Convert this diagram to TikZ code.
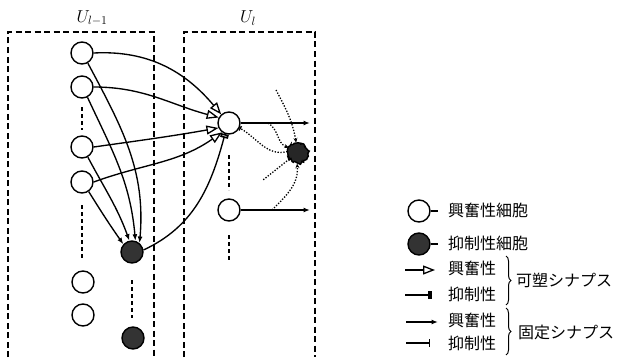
\documentclass[tikz,border=0pt]{standalone}
\usepackage{fontspec}
\newfontfamily\jpfont{Noto Sans CJK JP}
\usetikzlibrary{arrows.meta, decorations.pathreplacing, decorations.pathmorphing}

\begin{document}
\begin{tikzpicture}[x=1pt, y=1pt,
  cell/.style={circle, draw, line width=1.4pt, minimum size=22pt, inner sep=0pt},
  exccell/.style={cell, fill=white},
  inhcell/.style={cell, fill=black!80},
  layerbox/.style={line width=1.3pt, dash pattern=on 6pt off 3.5pt},
  contline/.style={line width=1.5pt, dash pattern=on 4pt off 3pt},
  wire/.style={line width=1.35pt},
  fixexc/.style={wire, -{Latex[length=6.5pt,width=5pt]}},
  fixinh/.style={wire, -{Bar[width=8pt,line width=1.5pt]}},
  plexc/.style={wire, -{Triangle[open,length=12pt,width=9pt,line width=1.3pt]}},
  plinh/.style={wire, -{Rectangle[open,length=4pt,width=8pt,line width=1.6pt]}},
  dotwire/.style={line width=1.3pt, dash pattern=on 1.3pt off 1.6pt},
  legtext/.style={anchor=west, inner sep=0pt, font=\jpfont\fontsize{16}{16}\selectfont},
  layerlabel/.style={font=\fontsize{17}{17}\selectfont},
]
\useasboundingbox (0,0) rectangle (623,357);

% layer boxes (open at the bottom)
\draw[layerbox] (8,0) -- (8,325) -- (154,325) -- (154,0);
\draw[layerbox] (184,0) -- (184,325) -- (315,325) -- (315,0);
\node[layerlabel] (labA) at (92,339) {$U_{l-1}$};
\node[layerlabel] (labB) at (248,339) {$U_l$};

% cells of layer U_{l-1}
\node[exccell] (c1) at (82,304) {};
\node[exccell] (c2) at (82,270) {};
\node[exccell] (c3) at (82,210) {};
\node[exccell] (c4) at (82,175) {};
\node[exccell] (c5) at (83,75) {};
\node[exccell] (c6) at (83,42) {};
\node[inhcell] (iA) at (132,105) {};
\node[inhcell] (iB) at (133,19) {};

% cells of layer U_l
\node[exccell] (r1) at (229,234) {};
\node[exccell] (r2) at (229,147) {};
\node[inhcell, minimum size=20pt, fill=black!85, decorate,
      decoration={random steps, segment length=1.5pt, amplitude=1.3pt}] (iR) at (298,204) {};

% continuation marks
\draw[contline] (82,250) -- (82,227);
\draw[contline] (82,152) -- (82,97);
\draw[contline] (132,77) -- (132,39);
\draw[contline] (229,202) -- (229,167);
\draw[contline] (229,122) -- (229,95);

% fixed excitatory inputs to the inhibitory cell
\draw[fixexc] (c1.-60) to[out=-62, in=85] (iA.50);
\draw[fixexc] (c2.-62) to[out=-65, in=95] (iA.73);
\draw[fixexc] (c3.-60) to[out=-62, in=110] (iA.103);
\draw[fixexc] (c4.-55) to[out=-58, in=125] (iA.138);

% plastic excitatory synapses onto r1
\draw[plexc] (c1.east) to[out=3, in=130] (r1.132);
\draw[plexc] (c2.east) to[out=0, in=165] (r1.152);
\draw[plexc] (c3.east) to[out=8, in=190] (r1.205);
\draw[plexc] (c4.east) to[out=20, in=215] (r1.233);

% plastic inhibitory synapse onto r1
\draw[plinh] (iA.10) to[out=25, in=-105] (r1.250);

% outputs of layer U_l
\coordinate (o1) at (310,234);
\coordinate (o2) at (310,147);
\draw[fixexc] (r1) -- (o1);
\draw[fixexc] (r2) -- (o2);

% lateral inhibition inside U_l
\coordinate (a0) at (276,267);
\coordinate (b0) at (268,234);
\coordinate (d0) at (263,177);
\coordinate (e0) at (272,147);
\draw[dotwire, -{Stealth[length=4.5pt,width=4pt]}] (a0) to[out=-62, in=100] (iR.100);
\draw[dotwire, -{Stealth[length=4.5pt,width=4pt]}] (b0) to[out=-30, in=160] (iR.150);
\draw[dotwire, -{Bar[width=5pt,line width=1.4pt]}] (iR.172) to[out=195, in=-30] (r1.-25);
\draw[dotwire] (iR.215) -- (d0);
\draw[dotwire, -{Stealth[length=4.5pt,width=4pt]}] (e0) to[out=45, in=-85] (iR.-95);

% legend
\node[exccell] (lgE) at (419,146) {};
\coordinate (lgEt) at (438,146);
\draw[wire] (lgE) -- (lgEt);
\node[legtext] (tE) at (448,147) {興奮性細胞};

\node[inhcell] (lgI) at (419,113) {};
\coordinate (lgIt) at (438,113);
\draw[wire] (lgI) -- (lgIt);
\node[legtext] (tI) at (448,114) {抑制性細胞};

\coordinate (p1a) at (405,87);
\coordinate (p1b) at (435,87);
\draw[plexc] (p1a) -- (p1b);
\node[legtext] (tp1) at (448,89) {興奮性};

\coordinate (p2a) at (405,62);
\coordinate (p2b) at (432,62);
\draw[plinh] (p2a) -- (p2b);
\node[legtext] (tp2) at (448,63) {抑制性};

\coordinate (f1a) at (406,35);
\coordinate (f1b) at (438,35);
\draw[fixexc] (f1a) -- (f1b);
\node[legtext] (tf1) at (448,37) {興奮性};

\coordinate (f2a) at (406,14);
\coordinate (f2b) at (430,14);
\draw[fixinh] (f2a) -- (f2b);
\node[legtext] (tf2) at (448,14) {抑制性};

\coordinate (bA1) at (506,101);
\coordinate (bA2) at (506,52);
\draw[line width=1pt, decorate, decoration={brace, amplitude=5pt}] (bA1) -- (bA2);
\node[legtext] (tpl) at (516,77) {可塑シナプス};

\coordinate (bB1) at (506,49);
\coordinate (bB2) at (506,2);
\draw[line width=1pt, decorate, decoration={brace, amplitude=5pt}] (bB1) -- (bB2);
\node[legtext] (tfx) at (518,25) {固定シナプス};
\end{tikzpicture}
\end{document}
